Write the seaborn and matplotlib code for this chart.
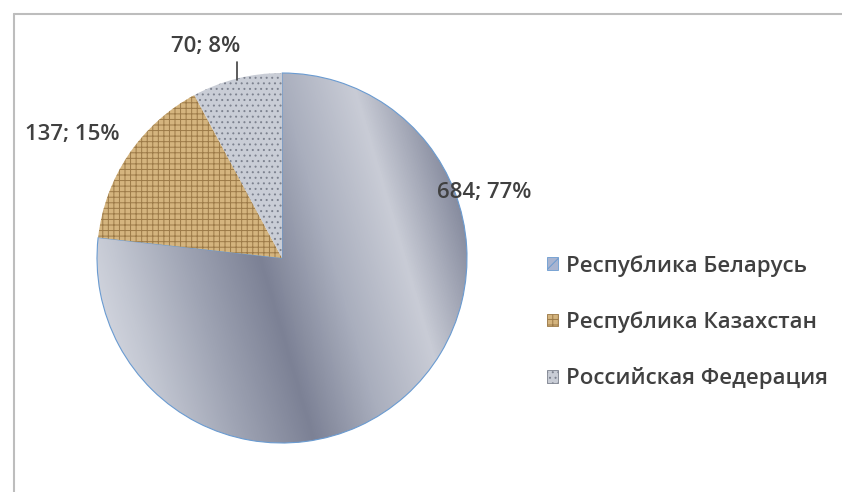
import numpy as np
import matplotlib
matplotlib.use("Agg")
import matplotlib.pyplot as plt
from matplotlib.colors import LinearSegmentedColormap
from matplotlib.patches import Patch
from matplotlib.lines import Line2D
import seaborn as sns

# данные
countries = ["Республика Беларусь", "Республика Казахстан", "Российская Федерация"]
values = [684, 137, 70]
percents = [77, 15, 8]

sns.set_theme(style="white")
plt.rcParams["font.family"] = ["Open Sans", "DejaVu Sans"]
plt.rcParams["hatch.linewidth"] = 0.7

W, H = 842, 492
fig = plt.figure(figsize=(W / 100, H / 100), dpi=100)
ax = fig.add_axes([0, 0, 1, 1])

cx, cy, r = 282, H - 258, 185
face = ["#b9bdca", "#d4b47e", "#c9cdd6"]
hatches = [None, "+++", "..."]
hatch_cols = ["#6a9bd1", "#9c7a48", "#7d828f"]

wedges, _ = ax.pie(values, center=(cx, cy), radius=r, startangle=90,
                   counterclock=False, colors=face, frame=False)
for w, h, hc in zip(wedges, hatches, hatch_cols):
    w.set_edgecolor(hc)
    w.set_linewidth(0.8 if h is None else 0)
    if h:
        w.set_hatch(h)

# металлический градиент для Беларуси
cmap = LinearSegmentedColormap.from_list(
    "metal", ["#e3e5ec", "#c3c7d2", "#9ea3b3", "#7c8195", "#a9aebd", "#c9ccd6", "#858a9d"])
xx, yy = np.meshgrid(np.linspace(0, 1, 400), np.linspace(0, 1, 400))
grad = np.clip(xx * 0.85 + (1 - yy) * 0.25, 0, 1)
img = ax.imshow(grad, cmap=cmap, extent=(cx - r, cx + r, cy - r, cy + r),
                origin="upper", zorder=0.5)
img.set_clip_path(wedges[0])
wedges[0].set_zorder(1)
wedges[0].set_facecolor("none")

ax.set_xlim(0, W)
ax.set_ylim(0, H)
ax.set_aspect("equal")
ax.set_axis_off()

txt = dict(fontsize=16, fontweight="semibold", color="#404040", ha="center", va="center")
labels = [f"{v}; {p}%" for v, p in zip(values, percents)]
ax.text(484, H - 193, labels[0], **txt)
ax.text(72, H - 135, labels[1], **txt)
ax.text(206, H - 47, labels[2], **txt)
ax.plot([237, 237], [H - 62, H - 80], color="#404040", lw=1.2)

handles = [Patch(facecolor=face[i], edgecolor=hatch_cols[i], hatch=hatches[i],
                 linewidth=0.6) for i in range(3)]
handles[0] = Patch(facecolor="#a8b4d0", edgecolor="#6a9bd1", hatch="//", linewidth=0.6)
leg = ax.legend(handles, countries, loc="center left",
                bbox_to_anchor=(527 / W, 1 - 322 / H), frameon=False,
                prop={"size": 16, "weight": "semibold"}, labelcolor="#404040",
                handlelength=0.5, handleheight=0.5, handletextpad=0.35,
                labelspacing=1.55)

# рамка области диаграммы
fig.add_artist(Line2D([14 / W, 14 / W], [0, 1 - 14 / H], color="#bdbdbd", lw=1.5))
fig.add_artist(Line2D([14 / W, 1], [1 - 14 / H, 1 - 14 / H], color="#bdbdbd", lw=1.5))

fig.savefig("out.png", dpi=100)
